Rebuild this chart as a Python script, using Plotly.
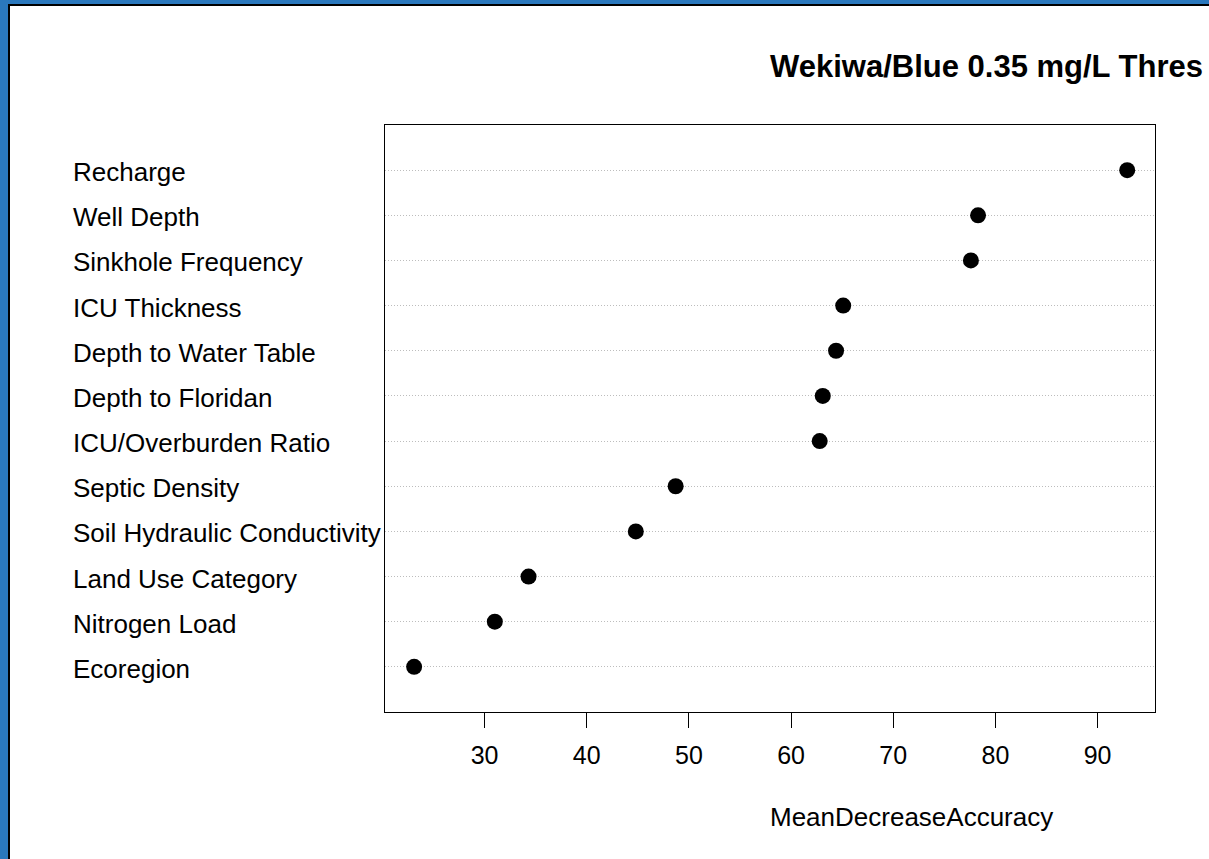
import plotly.graph_objects as go

# Data (top to bottom as displayed)
labels = ["Recharge", "Well Depth", "Sinkhole Frequency", "ICU Thickness",
          "Depth to Water Table", "Depth to Floridan", "ICU/Overburden Ratio",
          "Septic Density", "Soil Hydraulic Conductivity", "Land Use Category",
          "Nitrogen Load", "Ecoregion"]
values = [92.9, 78.3, 77.6, 65.1, 64.4, 63.1, 62.8, 48.7, 44.8, 34.3, 31.0, 23.1]
x_ticks = [30, 40, 50, 60, 70, 80, 90]
title_text = "Wekiwa/Blue 0.35 mg/L Thres"
x_title = "MeanDecreaseAccuracy"

W, H = 1209, 859
L, R, T, B = 385, 1155, 125, 712
FONT = "Liberation Sans, Arial, Helvetica, sans-serif"


def px(x):
    return (x - L) / (R - L)


def py(y):
    return (B - y) / (B - T)


n = len(labels)
ypos = [n - i for i in range(n)]  # Recharge at top

fig = go.Figure()
fig.add_trace(go.Scatter(
    x=values, y=ypos, mode="markers",
    marker=dict(color="black", size=16, line=dict(width=0)),
    hoverinfo="x+text", text=labels, showlegend=False,
))

annotations = []
for lab, y in zip(labels, ypos):
    annotations.append(dict(
        text=lab, x=px(71), xref="paper", y=y, yref="y", yshift=-2,
        xanchor="left", yanchor="middle", showarrow=False,
        font=dict(family=FONT, size=26, color="black"),
    ))
annotations.append(dict(
    text="<b>" + title_text + "</b>", x=px(768), xref="paper", y=py(66), yref="paper",
    xanchor="left", yanchor="middle", showarrow=False,
    font=dict(family=FONT, size=31, color="black"),
))
annotations.append(dict(
    text=x_title, x=px(768), xref="paper", y=py(817), yref="paper",
    xanchor="left", yanchor="middle", showarrow=False,
    font=dict(family=FONT, size=26, color="black"),
))

blue = "#2a78bd"
shapes = [
    dict(type="rect", xref="paper", yref="paper", x0=px(0), x1=px(W), y0=py(0), y1=py(4),
         fillcolor=blue, line=dict(width=0), layer="above"),
    dict(type="rect", xref="paper", yref="paper", x0=px(0), x1=px(8), y0=py(0), y1=py(H),
         fillcolor=blue, line=dict(width=0), layer="above"),
    dict(type="rect", xref="paper", yref="paper", x0=px(8), x1=px(W), y0=py(4), y1=py(6),
         fillcolor="black", line=dict(width=0), layer="above"),
    dict(type="rect", xref="paper", yref="paper", x0=px(8), x1=px(10), y0=py(4), y1=py(H),
         fillcolor="black", line=dict(width=0), layer="above"),
]

fig.update_layout(
    width=W, height=H,
    margin=dict(l=L, r=W - R, t=T, b=H - B, pad=0),
    paper_bgcolor="white", plot_bgcolor="white",
    annotations=annotations, shapes=shapes,
    xaxis=dict(
        range=[20.25, 95.62], tickvals=x_ticks, ticktext=[str(t) for t in x_ticks],
        ticks="outside", ticklen=15, tickwidth=1, tickcolor="black",
        showgrid=False, zeroline=False,
        showline=True, mirror=True, linecolor="black", linewidth=1.2,
        tickfont=dict(family=FONT, size=25, color="black"),
        ticklabelstandoff=6,
    ),
    yaxis=dict(
        range=[0, n + 1], tickvals=ypos, showticklabels=False, ticks="",
        showgrid=True, gridcolor="#bdbdbd", gridwidth=1, griddash="1px,2px",
        zeroline=False,
        showline=True, mirror=True, linecolor="black", linewidth=1.2,
    ),
)

fig.write_html("out.html", config={"displayModeBar": False},
               post_script="document.body.style.margin='0';")
